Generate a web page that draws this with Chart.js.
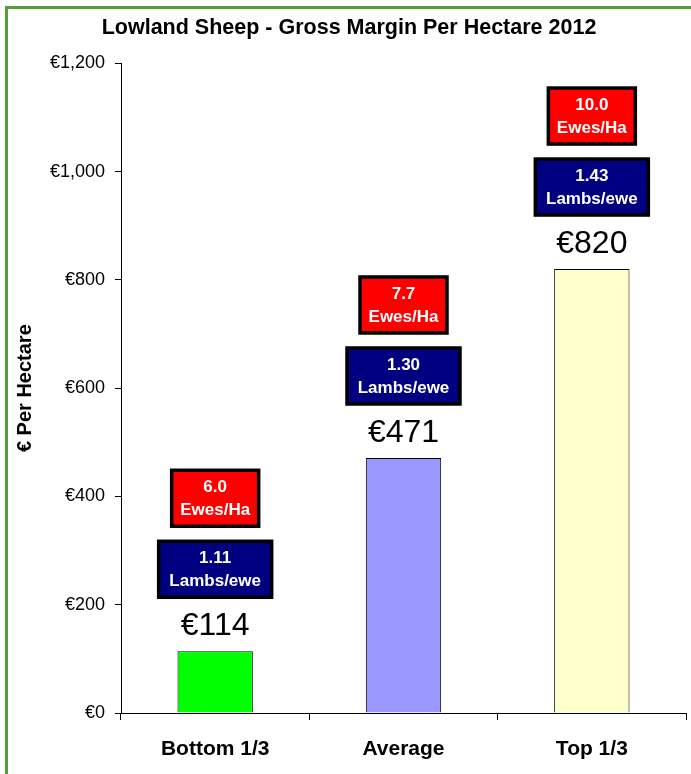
<!DOCTYPE html>
<html>
<head>
<meta charset="utf-8">
<script src="https://cdn.jsdelivr.net/npm/chart.js@4/dist/chart.umd.min.js"></script>
<style>
  body { margin: 0; background: #fff; }
  #wrap { position: relative; width: 691px; height: 774px; overflow: hidden; }
  #frame { position: absolute; left: 5px; top: 6px; width: 700px; height: 800px; border: 3px solid #559e3c; box-sizing: border-box; }
  canvas { position: absolute; left: 0; top: 0; }
</style>
</head>
<body>
<div id="wrap">
  <div id="frame"></div>
  <canvas id="chart" width="691" height="774"></canvas>
</div>
<script>
'use strict';

var categories = ['Bottom 1/3', 'Average', 'Top 1/3'];
var grossMargin = [114, 471, 820];
var lambsPerEwe = ['1.11', '1.30', '1.43'];
var ewesPerHa = ['6.0', '7.7', '10.0'];
var barColors = ['#00ff00', '#9999ff', '#ffffcc'];

var FONT = '"Liberation Sans", Arial, sans-serif';

function euro(v) {
    return '€' + Number(v).toLocaleString('en-US');
}

// value labels plus the two info boxes above each bar
var boxLabels = {
    id: 'boxLabels',
    afterDatasetsDraw: function (chart) {
        var ctx = chart.ctx;
        var meta = chart.getDatasetMeta(0);
        meta.data.forEach(function (bar, i) {
            var x = bar.x;
            var top = bar.y;
            ctx.save();
            ctx.textAlign = 'center';
            ctx.textBaseline = 'middle';
            ctx.fillStyle = '#000';
            ctx.font = '32px ' + FONT;
            ctx.fillText(euro(grossMargin[i]), x, top - 25);

            var blueTop = top - 54 - 56;
            drawBox(ctx, x, blueTop, 113, 56, '#000080', lambsPerEwe[i], 'Lambs/ewe');

            var redTop = blueTop - 15 - 56;
            drawBox(ctx, x, redTop, 87, 56, '#ff0000', ewesPerHa[i], 'Ewes/Ha');
            ctx.restore();
        });
    }
};

function drawBox(ctx, cx, top, w, h, fill, line1, line2) {
    ctx.fillStyle = fill;
    ctx.fillRect(cx - w / 2, top, w, h);
    ctx.lineWidth = 3.5;
    ctx.strokeStyle = '#000';
    ctx.strokeRect(cx - w / 2, top, w, h);
    ctx.fillStyle = '#fff';
    ctx.font = 'bold 17px ' + FONT;
    ctx.textAlign = 'center';
    ctx.textBaseline = 'middle';
    ctx.fillText(line1, cx, top + 17);
    ctx.fillText(line2, cx, top + 40);
}

new Chart(document.getElementById('chart').getContext('2d'), {
    type: 'bar',
    data: {
        labels: categories,
        datasets: [{
            data: grossMargin,
            backgroundColor: barColors,
            borderColor: '#000',
            borderWidth: 1,
            barPercentage: 0.4,
            categoryPercentage: 1
        }]
    },
    options: {
        responsive: false,
        animation: false,
        layout: { padding: { left: 12, right: 5, top: 0, bottom: 0 } },
        plugins: {
            legend: { display: false },
            tooltip: { enabled: false },
            title: {
                display: true,
                text: 'Lowland Sheep - Gross Margin Per Hectare 2012',
                color: '#000',
                font: { family: FONT, size: 21.5, weight: 'bold' },
                padding: { top: 15.5, bottom: 22 }
            }
        },
        scales: {
            x: {
                offset: true,
                grid: { offset: true, drawOnChartArea: false, color: '#000', tickLength: 7 },
                border: { color: '#000', width: 1 },
                ticks: { color: '#000', padding: 17, font: { family: FONT, size: 21, weight: 'bold' } },
                afterFit: function (scale) { scale.height = 61; }
            },
            y: {
                min: 0,
                max: 1200,
                ticks: {
                    stepSize: 200,
                    color: '#000',
                    padding: 10,
                    font: { family: FONT, size: 18 },
                    callback: function (v) { return euro(v); }
                },
                grid: { drawOnChartArea: false, color: '#000', tickLength: 6 },
                border: { color: '#000', width: 1 },
                title: {
                    display: true,
                    text: '€ Per Hectare',
                    color: '#000',
                    font: { family: FONT, size: 20, weight: 'bold' },
                    padding: { top: 1 }
                },
                afterFit: function (scale) { scale.width = 109; }
            }
        }
    },
    plugins: [boxLabels]
});
</script>
</body>
</html>
